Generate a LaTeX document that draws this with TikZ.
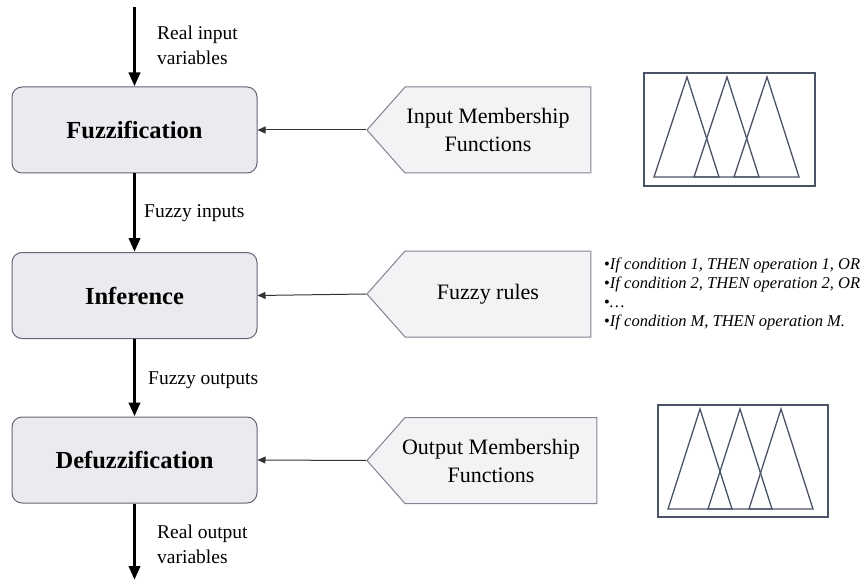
\documentclass[tikz,border=0pt]{standalone}
\usepackage{fontspec}
\setmainfont{Liberation Serif}
\usetikzlibrary{arrows.meta, shapes.symbols}

\definecolor{boxfill}{HTML}{EBEBEF}
\definecolor{boxline}{HTML}{5F6675}
\definecolor{tagline}{HTML}{7E8491}
\definecolor{mfline}{HTML}{4A5366}

% pulls a centred line a little to the left
\newcommand{\pullleft}{\hspace*{-20pt}}

\begin{document}
\begin{tikzpicture}[
  x=1pt, y=-1pt,
  stage/.style={
    rectangle, rounded corners=10pt,
    draw=boxline, fill=boxfill, line width=1pt,
    minimum width=245pt, minimum height=86pt,
    font=\fontsize{24.5}{28}\selectfont\bfseries,
  },
  tag/.style={
    signal, signal to=west, signal pointer angle=97,
    draw=tagline, fill=boxfill!60!white, line width=1pt,
    minimum height=86pt, inner sep=0pt, align=center,
    font=\fontsize{22}{28}\selectfont,
  },
  flow/.style={line width=3.5pt, -{Triangle[length=14pt,width=11pt]}},
  feed/.style={line width=1pt, draw=black!80, -{Triangle[length=8pt,width=7pt]}},
  lbl/.style={anchor=west, align=left, inner sep=0pt,
    font=\fontsize{19.5}{25}\selectfont},
  mf/.style={draw=mfline, line width=1.3pt, line join=miter},
]
\useasboundingbox (0,0) rectangle (861,580);

% main chain
\node[stage] (fuzz)   at (134.5,130) {Fuzzification};
\node[stage] (infer)  at (134.5,295.5) {Inference};
\node[stage] (defuzz) at (134.5,460) {Defuzzification};

\coordinate (src)  at (134.5,7);
\coordinate (sink) at (134.5,580);

\draw[flow] (src) -- (fuzz);
\draw[flow] (fuzz) -- (infer);
\draw[flow] (infer) -- (defuzz);
\draw[flow] (defuzz) -- (sink);

\node[lbl] (realin)  at (157,45) {Real input\\variables};
\node[lbl] (fzin)    at (144,213) {Fuzzy inputs};
\node[lbl] (fzout)   at (148,380) {Fuzzy outputs};
\node[lbl] (realout) at (157,544.5) {Real output\\variables};

% knowledge inputs
\node[tag, minimum width=224pt] (inmf)  at (498,130)
  {\pullleft Input Membership\\\pullleft Functions};
\node[tag, minimum width=224pt] (rules) at (498,294) {\pullleft Fuzzy rules};
\node[tag, minimum width=230pt] (outmf) at (501,460.5)
  {\pullleft Output Membership\\\pullleft Functions};

\draw[feed] (inmf.west) -- (fuzz.east);
\draw[feed] (rules.west) -- (infer.east);
\draw[feed] (outmf.west) -- (defuzz.east);

\node[anchor=north west, align=left, inner sep=0pt,
      font=\fontsize{16.5}{19}\selectfont] (rulelist) at (604,258) {%
  \textbullet\textit{If condition 1, THEN operation 1, OR}\\
  \textbullet\textit{If condition 2, THEN operation 2, OR}\\
  \textbullet\textit{\dots}\\
  \textbullet\textit{If condition M, THEN operation M.}};

% membership function sketches
\draw[mf] (644,73) rectangle (815,186);
\foreach \p in {687,727,767}
  \draw[mf] (\p-33,177) -- (\p,77) -- (\p+32,177) -- cycle;

\draw[mf] (658,405) rectangle (828,517);
\foreach \p in {700,740,781}
  \draw[mf] (\p-32,509) -- (\p,409) -- (\p+32,509) -- cycle;

\end{tikzpicture}
\end{document}
